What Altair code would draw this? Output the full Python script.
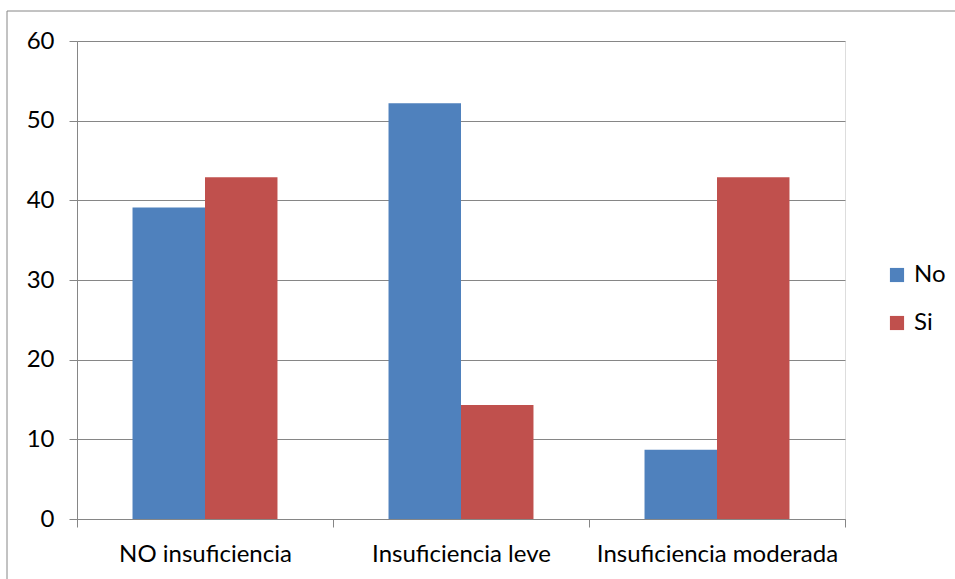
import altair as alt
import pandas as pd

# Percentages per severity category, split by group
categories = ["NO insuficiencia", "Insuficiencia leve", "Insuficiencia moderada"]
series = ["No", "Si"]
no_values = [39.1, 52.2, 8.7]
si_values = [42.9, 14.3, 42.9]
colors = ["#4F81BD", "#C0504D"]
y_ticks = [0, 10, 20, 30, 40, 50, 60]

rows = []
for cat, n, s in zip(categories, no_values, si_values):
    rows.append({"categoria": cat, "grupo": "No", "valor": n})
    rows.append({"categoria": cat, "grupo": "Si", "valor": s})
df = pd.DataFrame(rows)

FONT = "Lato"
GRAY = "#868686"
W, H = 768, 478

# Outer frame around the whole chart
frame = alt.Chart(alt.Data(values=[{}])).mark_rect(
    filled=False, stroke=GRAY, strokeWidth=1
).encode(
    x=alt.value(-70), x2=alt.value(950), y=alt.value(-30), y2=alt.value(600)
)

bars = alt.Chart(df).mark_bar(strokeWidth=0).encode(
    x=alt.X(
        "categoria:N",
        sort=categories,
        scale=alt.Scale(paddingInner=0, paddingOuter=0),
        axis=alt.Axis(
            title=None, labelAngle=0, tickBand="extent", grid=False,
            domainColor=GRAY, tickColor=GRAY, tickSize=8,
            labelFont=FONT, labelFontSize=24, labelColor="#000000",
            labelPadding=15, labelLimit=0,
        ),
    ),
    xOffset=alt.XOffset(
        "grupo:N", sort=series,
        scale=alt.Scale(paddingInner=0, paddingOuter=0.766),
    ),
    y=alt.Y(
        "valor:Q",
        scale=alt.Scale(domain=[0, 60], nice=False),
        axis=alt.Axis(
            title=None, values=y_ticks, grid=True, gridColor=GRAY,
            domainColor=GRAY, tickColor=GRAY, tickSize=8,
            labelFont=FONT, labelFontSize=24, labelColor="#000000",
            labelPadding=15,
        ),
    ),
    color=alt.Color(
        "grupo:N",
        scale=alt.Scale(domain=series, range=colors),
        legend=alt.Legend(
            title=None, orient="none", legendX=808, legendY=222,
            symbolType="square", symbolSize=200, symbolStrokeWidth=0,
            labelFont=FONT, labelFontSize=24, labelColor="#000000",
            rowPadding=24, padding=0, labelOffset=5,
        ),
    ),
)

chart = alt.layer(frame, bars).properties(
    width=W, height=H,
    autosize=alt.AutoSizeParams(type="none"),
    padding={"left": 77, "top": 41, "right": 110, "bottom": 60},
).configure_view(stroke=None).configure(background="#ffffff")

chart.save("out.html", embed_options={"renderer": "svg", "actions": False})
